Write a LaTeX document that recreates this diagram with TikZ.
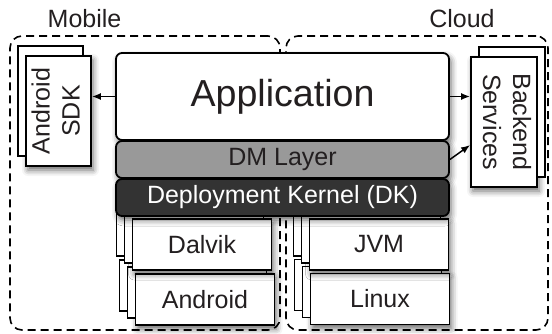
\documentclass[tikz,border=0pt]{standalone}
\usepackage{fontspec}
\setmainfont{Liberation Sans}
\usetikzlibrary{arrows.meta,positioning,calc,shadows,shadows.blur}
\definecolor{inkgray}{RGB}{35,31,32}
\definecolor{dmgray} {RGB}{153,153,153}
\definecolor{dkgray} {RGB}{51,51,51}

\begin{document}
\begin{tikzpicture}[x=1pt,y=-1pt,
  every node/.style={font=\fontsize{25}{30}\selectfont,text=inkgray,inner sep=0pt},
  soft/.style={blur shadow={shadow xshift=2pt,shadow yshift=-4pt,
               shadow blur radius=6pt,shadow opacity=60}},
  zone/.style={draw,line width=1.6pt,dash pattern=on 8pt off 5pt,rounded corners=12pt},
  layer/.style={draw=black,line width=1.8pt,rounded corners=6pt,
                minimum width=333pt,soft},
  stack/.style={draw=black,line width=1.8pt,fill=white,minimum width=139pt,
                minimum height=51pt,soft,
                double copy shadow={shadow xshift=-8pt,shadow yshift=7pt,
                                    draw=black,line width=1.8pt}},
  side/.style={draw=black,line width=1.8pt,fill=white,soft},
  arr/.style={-{Latex[length=9pt,width=7pt]},line width=1.5pt},
]
\useasboundingbox (0,0) rectangle (552,334);

%% -- Mobile / Cloud zones -------------------------------------------------
\node[zone,minimum width=270pt,minimum height=294pt] (mobile) at (145,183) {};
\node[zone,minimum width=262pt,minimum height=294pt] (cloud)  at (417,183) {};
\node (mobilelbl) at (84.5,18.5) {Mobile};
\node (cloudlbl)  at (462,18.5)  {Cloud};

%% -- Runtime stacks -------------------------------------------------------
\node[stack] (android) at (205,299.5) {Android};
\node[stack] (linux)   at (380,299)   {Linux};
\node[stack] (dalvik)  at (202,244.5) {Dalvik};
\node[stack] (jvm)     at (379,244.5) {JVM};

%% -- Layers ---------------------------------------------------------------
\node[layer,fill=white,minimum height=87pt,font=\fontsize{37.6}{40}\selectfont]
  (app) at (282.5,96.5) {Application};
\node[layer,fill=dmgray,minimum height=37pt] (dm) at (282.5,159.5) {DM Layer};
\node[layer,fill=dkgray,minimum height=37pt,text=white]
  (dk) at (282.5,197.5) {Deployment Kernel (DK)};

%% -- Side services --------------------------------------------------------
\node[side,minimum width=65pt,minimum height=110pt,
      copy shadow={shadow xshift=-8pt,shadow yshift=10pt,draw=black,line width=1.8pt}]
  (sdk) at (58.5,111)
  {\rotatebox{90}{\begin{tabular}{@{}c@{}}Android\\SDK\end{tabular}}};
\node[side,minimum width=66pt,minimum height=130pt,
      copy shadow={shadow xshift=8pt,shadow yshift=10pt,draw=black,line width=1.8pt}]
  (backend) at (504,122)
  {\rotatebox{-90}{\begin{tabular}{@{}c@{}}Backend\\Services\end{tabular}}};

%% -- Connections ----------------------------------------------------------
\draw[arr] (app.west) -- (app.west -| sdk.east);
\draw[arr] (app.east) -- (app.east -| backend.west);
\draw[arr] (dm.east) -- ($(backend.west)!0.35!(backend.south west)$);

\end{tikzpicture}
\end{document}
